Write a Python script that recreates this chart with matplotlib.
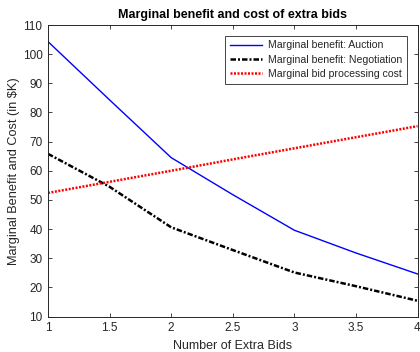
import matplotlib
matplotlib.use('Agg')
import matplotlib.pyplot as plt

plt.rcParams['font.family'] = ['Liberation Sans', 'DejaVu Sans']

# Data
bids = [1, 1.5, 2, 2.5, 3, 3.5, 4]
auction = [104.3, 84.3, 64.5, 51.8, 39.6, 31.8, 24.6]
negotiation = [65.8, 54.5, 40.6, 32.8, 25.1, 20.4, 15.4]
cost = [52.4, 56.2, 60.0, 63.9, 67.7, 71.5, 75.3]

xticks = [1, 1.5, 2, 2.5, 3, 3.5, 4]
yticks = [10, 20, 30, 40, 50, 60, 70, 80, 90, 100, 110]

fig = plt.figure(figsize=(4.2, 3.52), dpi=100)
ax = fig.add_axes([48 / 420, 1 - 316.5 / 352, 369.5 / 420, 291.5 / 352])

ax.plot(bids, auction, color='#0000ff', lw=1.0, label='Marginal benefit: Auction')
ax.plot(bids, negotiation, color='black', lw=1.8, ls='-.', dashes=(2.2, 0.8, 0.8, 0.8),
        label='Marginal benefit: Negotiation')
ax.plot(bids, cost, color='red', lw=1.8, ls=':', dashes=(0.8, 0.6),
        label='Marginal bid processing cost')

ax.set_xlim(1, 4)
ax.set_ylim(10, 110)
ax.set_xticks(xticks)
ax.set_xticklabels(['1', '1.5', '2', '2.5', '3', '3.5', '4'])
ax.set_yticks(yticks)

txt = '#262626'
ax.tick_params(direction='in', top=True, right=True, length=3, width=0.6,
               labelsize=8.5, colors=txt, pad=4)
for s in ax.spines.values():
    s.set_linewidth(0.7)
    s.set_color(txt)

ax.set_title('Marginal benefit and cost of extra bids', fontsize=9, fontweight='bold',
             color='black', pad=5)
ax.set_xlabel('Number of Extra Bids', fontsize=9, color=txt, labelpad=4)
ax.set_ylabel('Marginal Benefit and Cost (in $K)', fontsize=9.2, color=txt, labelpad=2)

leg = ax.legend(loc='upper right', fontsize=7.6, frameon=True, fancybox=False,
                edgecolor=txt, framealpha=1, handlelength=3.0, handletextpad=0.6,
                borderpad=0.45, labelspacing=0.42, borderaxespad=1.0)
leg.get_frame().set_linewidth(0.6)
for t in leg.get_texts():
    t.set_color(txt)

fig.savefig('out.png', dpi=100)
